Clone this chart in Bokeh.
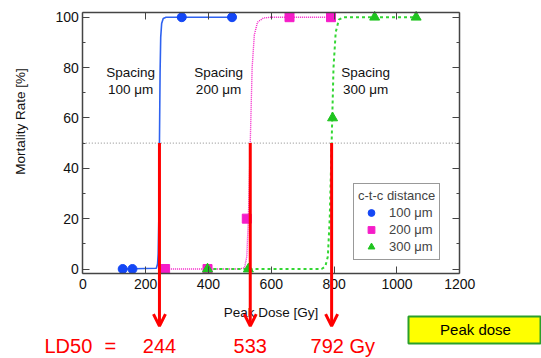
import math
from bokeh.plotting import figure
from bokeh.models import (Range1d, FixedTicker, LinearAxis, Arrow, OpenHead,
                          Label, Legend, LegendItem, BoxAnnotation)
from bokeh.embed import file_html
from bokeh.resources import INLINE

FONT = "Liberation Sans"

# ---------------- data ----------------
x_ticks = [0, 200, 400, 600, 800, 1000, 1200]
y_ticks = [0, 20, 40, 60, 80, 100]
y_minor = [10, 30, 50, 70, 90]

dose_100 = [127, 158, 315, 475]
rate_100 = [0, 0, 100, 100]
dose_200 = [262, 397, 522, 658, 790]
rate_200 = [0, 0, 20, 100, 100]
dose_300 = [397, 527, 795, 929, 1061]
rate_300 = [0, 0, 60, 100, 100]

fit_dose_100 = [127, 234, 238, 240, 242, 244, 246, 248, 251, 256, 265, 475]
fit_rate_100 = [0, 0.3, 2, 6, 20, 50, 78, 92, 97.5, 99.5, 100, 100]
fit_dose_200 = [262, 500, 515, 522, 527, 533, 539, 546, 556, 575, 600, 790]
fit_rate_200 = [0, 0, 0.5, 5, 20, 50, 80, 93, 98, 99.7, 100, 100]
fit_dose_300 = [397, 760, 772, 780, 786, 792, 798, 805, 815, 830, 1061]
fit_rate_300 = [0, 0, 1, 5, 20, 50, 80, 94, 99, 100, 100]

series_labels = ["100 μm", "200 μm", "300 μm"]
spacing_labels = ["100 μm", "200 μm", "300 μm"]
ld50 = [244, 533, 792]
ld50_labels = ["244", "533", "792 Gy"]
half_rate = 50

BLUE = "#1447f5"
BLUE_LINE = "#2e62f0"
MAGENTA = "#f51cc8"
GREEN = "#1fc41f"
GREEN_LINE = "#33d633"
AXIS = "#444444"
TXT = "#111111"

# plot-box limits (data units)
X0, X1 = 0, 1200
Y0, Y1 = -1.67, 101.75

# ---------------- figure ----------------
# The frame covers the whole canvas; the axes are drawn at fixed data locations so
# that the arrows and texts below the plot box are not clipped.
p = figure(width=541, height=358, output_backend="svg", toolbar_location=None,
           x_range=Range1d(-261.96, 1460.05), y_range=Range1d(-35.54, 106.63),
           min_border_left=0, min_border_right=0, min_border_top=0,
           min_border_bottom=0)
p.background_fill_color = "white"
p.border_fill_color = "white"
p.outline_line_color = None
p.grid.visible = False


def style_axis(ax):
    ax.axis_line_color = AXIS
    ax.axis_line_width = 1.5
    ax.major_tick_line_color = AXIS
    ax.minor_tick_line_color = AXIS
    ax.major_tick_in = 7
    ax.major_tick_out = 0
    ax.minor_tick_in = 3
    ax.minor_tick_out = 0
    ax.major_label_text_font = FONT
    ax.major_label_text_font_size = "14px"
    ax.major_label_text_color = TXT


xa = p.xaxis[0]
ya = p.yaxis[0]
style_axis(xa)
style_axis(ya)
xa.ticker = FixedTicker(ticks=x_ticks)
ya.ticker = FixedTicker(ticks=y_ticks, minor_ticks=y_minor)
xa.fixed_location = Y0
ya.fixed_location = X0
xa.bounds = (X0, X1)
ya.bounds = (Y0, Y1)
xa.major_label_standoff = 6
ya.major_label_standoff = 4
xa.axis_label = "Peak Dose [Gy]"
xa.axis_label_text_font = FONT
xa.axis_label_text_font_style = "normal"
xa.axis_label_text_font_size = "13.5px"
xa.axis_label_text_color = TXT
xa.axis_label_standoff = 12

# mirror axes (ticks only, empty labels)
top = LinearAxis(ticker=FixedTicker(ticks=x_ticks), fixed_location=Y1, bounds=(X0, X1),
                 major_label_overrides={t: "" for t in x_ticks})
style_axis(top)
top.minor_tick_in = 0
right = LinearAxis(ticker=FixedTicker(ticks=y_ticks, minor_ticks=y_minor),
                   fixed_location=X1, bounds=(Y0, Y1),
                   major_label_overrides={t: "" for t in y_ticks})
style_axis(right)
p.add_layout(top, "above")
p.add_layout(right, "right")

# y-axis title
p.add_layout(Label(x=-198, y=58.6, text="Mortality Rate [%]", angle=math.pi / 2,
                   text_align="center", text_baseline="middle", text_font=FONT,
                   text_font_size="13.5px", text_color=TXT))

# 50% reference line
p.segment(x0=[X0], y0=[half_rate], x1=[X1], y1=[half_rate], line_color="#888888",
          line_width=1, line_dash="1 2")

# fitted curves
p.line(fit_dose_100, fit_rate_100, line_color=BLUE_LINE, line_width=1.6)
p.line(fit_dose_200, fit_rate_200, line_color=MAGENTA, line_width=1.4, line_dash="1 1")
p.line(fit_dose_300, fit_rate_300, line_color=GREEN_LINE, line_width=2, line_dash="3 3")

# markers
r1 = p.scatter(dose_100, rate_100, marker="circle", size=9, fill_color=BLUE, line_color=BLUE)
r2 = p.scatter(dose_200, rate_200, marker="square", size=9, fill_color=MAGENTA, line_color=MAGENTA)
r3 = p.scatter(dose_300, rate_300, marker="triangle", size=10, fill_color=GREEN, line_color=GREEN)

legend = Legend(items=[LegendItem(label=series_labels[0], renderers=[r1]),
                       LegendItem(label=series_labels[1], renderers=[r2]),
                       LegendItem(label=series_labels[2], renderers=[r3])],
                location=(353, 98), title="c-t-c distance")
legend.title_text_font = FONT
legend.title_text_font_size = "13px"
legend.title_text_font_style = "normal"
legend.title_standoff = 1
legend.label_text_font = FONT
legend.label_text_font_size = "13px"
legend.label_height = 17
legend.glyph_height = 17
legend.glyph_width = 26
legend.label_standoff = 5
legend.spacing = 0
legend.padding = 4
legend.margin = 0
legend.border_line_color = "#333333"
legend.border_line_width = 1
legend.background_fill_alpha = 1
p.add_layout(legend)

# spacing annotations
spacing_x = [152, 432, 900]
for sx, lab in zip(spacing_x, spacing_labels):
    p.add_layout(Label(x=sx, y=78.0, text="Spacing", text_align="center",
                       text_baseline="middle", text_font=FONT, text_font_size="13.5px",
                       text_color=TXT))
    p.add_layout(Label(x=sx, y=71.3, text=lab, text_align="center",
                       text_baseline="middle", text_font=FONT, text_font_size="13.5px",
                       text_color=TXT))

# LD50 arrows
for xv in ld50:
    p.add_layout(Arrow(x_start=xv, y_start=half_rate, x_end=xv, y_end=-22.7,
                       line_color="red", line_width=3,
                       end=OpenHead(size=12, line_color="red", line_width=3)))

# LD50 labels
LY = -30.5
LFS = "20px"
p.add_layout(Label(x=-122, y=LY, text="LD50", text_align="left",
                   text_baseline="middle", text_font=FONT, text_font_size=LFS,
                   text_color="red"))
p.add_layout(Label(x=88, y=LY, text="=", text_align="center",
                   text_baseline="middle", text_font=FONT, text_font_size=LFS,
                   text_color="red"))
for xv, lab in zip(ld50, ld50_labels):
    if lab.endswith("Gy"):
        p.add_layout(Label(x=xv, y=LY, x_offset=-21, text=lab, text_align="left",
                           text_baseline="middle", text_font=FONT,
                           text_font_size=LFS, text_color="red"))
    else:
        p.add_layout(Label(x=xv, y=LY, text=lab, text_align="center",
                           text_baseline="middle", text_font=FONT,
                           text_font_size=LFS, text_color="red"))

# Peak dose box
p.add_layout(BoxAnnotation(left=1036.7, right=1456.9, top=-18.86, bottom=-29.59,
                           fill_color="#ffff00", fill_alpha=1,
                           line_color="#2aa02a", line_width=2, line_alpha=1))
p.add_layout(Label(x=1250, y=-24.2, text="Peak dose", text_align="center",
                   text_baseline="middle", text_font=FONT, text_font_size="15px",
                   text_color="black"))

open("out.html", "w").write(file_html(p, INLINE))
